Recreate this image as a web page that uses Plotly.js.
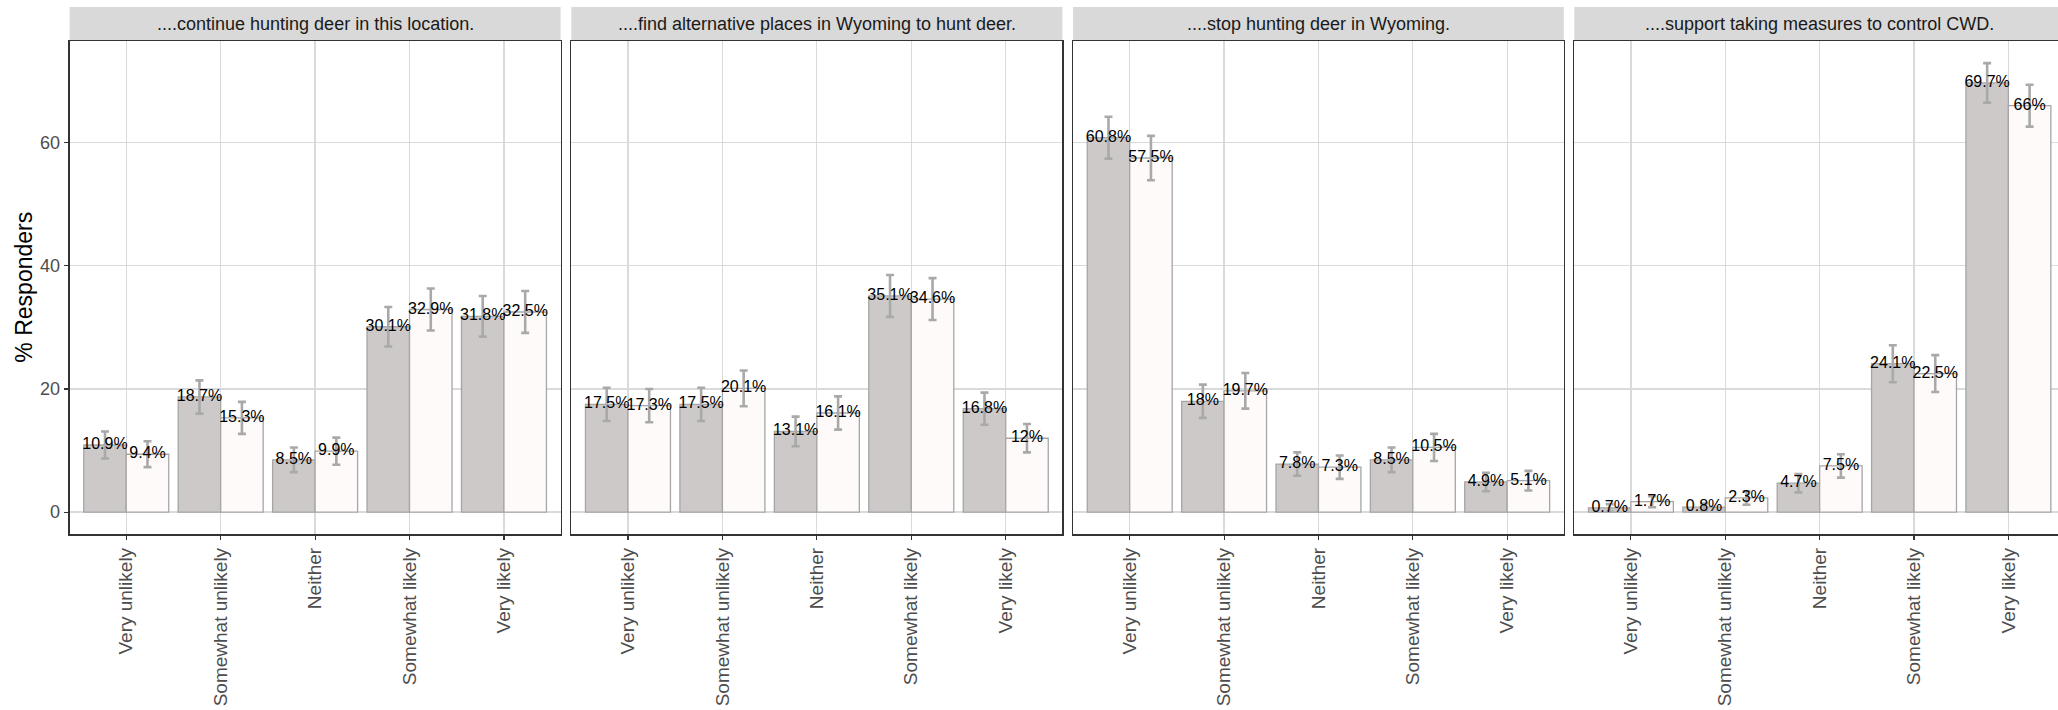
<!DOCTYPE html>
<html>
<head>
<meta charset="utf-8">
<script src="https://cdn.plot.ly/plotly-3.0.1.min.js"></script>
<style>html,body{margin:0;padding:0;background:#fff;}#chart{width:2058px;height:710px;}</style>
</head>
<body>
<div id="chart"></div>
<script>
// ---- data ----
const categories = ["Very unlikely", "Somewhat unlikely", "Neither", "Somewhat likely", "Very likely"];
const panelTitles = [
  "....continue hunting deer in this location.",
  "....find alternative places in Wyoming to hunt deer.",
  "....stop hunting deer in Wyoming.",
  "....support taking measures to control CWD."
];
const continueGrey = [10.9, 18.7, 8.5, 30.1, 31.8];
const continueWhite = [9.4, 15.3, 9.9, 32.9, 32.5];
const findGrey = [17.5, 17.5, 13.1, 35.1, 16.8];
const findWhite = [17.3, 20.1, 16.1, 34.6, 12];
const stopGrey = [60.8, 18, 7.8, 8.5, 4.9];
const stopWhite = [57.5, 19.7, 7.3, 10.5, 5.1];
const supportGrey = [0.7, 0.8, 4.7, 24.1, 69.7];
const supportWhite = [1.7, 2.3, 7.5, 22.5, 66];
const continueGreyErr = [2.2, 2.7, 2.0, 3.2, 3.3];
const continueWhiteErr = [2.1, 2.6, 2.2, 3.4, 3.4];
const findGreyErr = [2.7, 2.7, 2.4, 3.4, 2.6];
const findWhiteErr = [2.7, 2.9, 2.7, 3.4, 2.3];
const stopGreyErr = [3.4, 2.7, 1.9, 2.0, 1.5];
const stopWhiteErr = [3.6, 2.9, 1.9, 2.2, 1.6];
const supportGreyErr = [0.6, 0.6, 1.5, 3.0, 3.2];
const supportWhiteErr = [0.9, 1.1, 1.9, 3.0, 3.4];
const yTicks = [0, 20, 40, 60];

const greySeries = [continueGrey, findGrey, stopGrey, supportGrey];
const whiteSeries = [continueWhite, findWhite, stopWhite, supportWhite];
const greyErrs = [continueGreyErr, findGreyErr, stopGreyErr, supportGreyErr];
const whiteErrs = [continueWhiteErr, findWhiteErr, stopWhiteErr, supportWhiteErr];

// ---- layout geometry (pixels) ----
const W = 2058, H = 710;
const panelPx = [[69.6, 560.6], [571.3, 1062.4], [1073.1, 1563.8], [1574.3, 2065.0]];
const panelTop = 41, panelBottom = 534.3, stripTop = 7;
const FONT = "Liberation Sans, Arial, sans-serif";
const GREY = "#CDC9C9", WHITE = "#FFFAFA", OUTLINE = "#A6A6A6", ERR = "#A9A9A9";

const xIdx = categories.map((c, i) => i);
const traces = [];
const layout = {
  width: W, height: H,
  margin: {l: 0, r: 0, t: 0, b: 0, pad: 0},
  paper_bgcolor: "#ffffff", plot_bgcolor: "#ffffff",
  showlegend: false,
  barmode: "group", bargap: 0.1, bargroupgap: 0,
  font: {family: FONT},
  shapes: [], annotations: []
};

const yDom = [(H - panelBottom) / H, (H - panelTop) / H];

for (let p = 0; p < 4; p++) {
  const suf = p === 0 ? "" : String(p + 1);
  const xa = "x" + suf, ya = "y" + suf;
  const left = panelPx[p][0], right = Math.min(panelPx[p][1], W);
  const unitPx = (panelPx[p][1] - panelPx[p][0]) / 5.2;
  const xMax = -0.6 + (right - left) / unitPx;

  traces.push({
    type: "bar", x: xIdx, y: greySeries[p], xaxis: xa, yaxis: ya,
    marker: {color: GREY, line: {color: OUTLINE, width: 1.3}},
    error_y: {type: "data", array: greyErrs[p], visible: true, color: ERR, thickness: 2.6, width: 4},
    hoverinfo: "skip"
  });
  traces.push({
    type: "bar", x: xIdx, y: whiteSeries[p], xaxis: xa, yaxis: ya,
    marker: {color: WHITE, line: {color: OUTLINE, width: 1.3}},
    error_y: {type: "data", array: whiteErrs[p], visible: true, color: ERR, thickness: 2.6, width: 4},
    hoverinfo: "skip"
  });
  traces.push({
    type: "scatter", mode: "text", xaxis: xa, yaxis: ya,
    x: xIdx.map(i => i - 0.225).concat(xIdx.map(i => i + 0.225)),
    y: greySeries[p].concat(whiteSeries[p]),
    text: greySeries[p].concat(whiteSeries[p]).map(v => String(v) + "%"),
    textposition: "middle center",
    textfont: {family: FONT, size: 16, color: "#000000"},
    cliponaxis: false, hoverinfo: "skip"
  });

  layout["xaxis" + suf] = {
    domain: [left / W, right / W], anchor: ya,
    range: [-0.6, xMax], fixedrange: true,
    tickmode: "array", tickvals: xIdx, ticktext: categories,
    tickangle: -90, tickfont: {family: FONT, size: 19, color: "#4D4D4D"},
    ticks: "outside", ticklen: 4.6, tickwidth: 1.1, tickcolor: "#333333",
    showgrid: true, gridcolor: "#DADADA", gridwidth: 1.3,
    showline: true, linecolor: "#333333", linewidth: 1.4, mirror: true,
    zeroline: false, automargin: false
  };
  layout["yaxis" + suf] = {
    domain: yDom, anchor: xa,
    range: [-3.6, 76.5], fixedrange: true,
    tickmode: "array", tickvals: yTicks,
    showticklabels: p === 0,
    tickfont: {family: FONT, size: 18, color: "#4D4D4D"},
    ticks: p === 0 ? "outside" : "", ticklen: 4.6, tickwidth: 1.1, tickcolor: "#333333",
    showgrid: true, gridcolor: "#DADADA", gridwidth: 1.3,
    showline: true, linecolor: "#333333", linewidth: 1.4, mirror: p < 3,
    zeroline: false, automargin: false
  };

  // facet strip
  layout.shapes.push({
    type: "rect", xref: "paper", yref: "paper",
    x0: left / W, x1: right / W,
    y0: (H - panelTop) / H, y1: (H - stripTop) / H,
    fillcolor: "#D9D9D9", line: {width: 0}, layer: "below"
  });
  layout.annotations.push({
    xref: "paper", yref: "paper",
    x: (panelPx[p][0] + panelPx[p][1]) / 2 / W,
    y: (H - (panelTop + stripTop) / 2) / H,
    xanchor: "center", yanchor: "middle",
    text: panelTitles[p], showarrow: false,
    font: {family: FONT, size: 18, color: "#1A1A1A"}
  });
}

// y-axis title
layout.annotations.push({
  xref: "paper", yref: "paper",
  x: 24 / W, y: (H - (panelTop + panelBottom) / 2) / H,
  xanchor: "center", yanchor: "middle", textangle: -90,
  text: "% Responders", showarrow: false,
  font: {family: FONT, size: 23, color: "#000000"}
});

Plotly.newPlot("chart", traces, layout, {staticPlot: true, displayModeBar: false});
</script>
</body>
</html>
